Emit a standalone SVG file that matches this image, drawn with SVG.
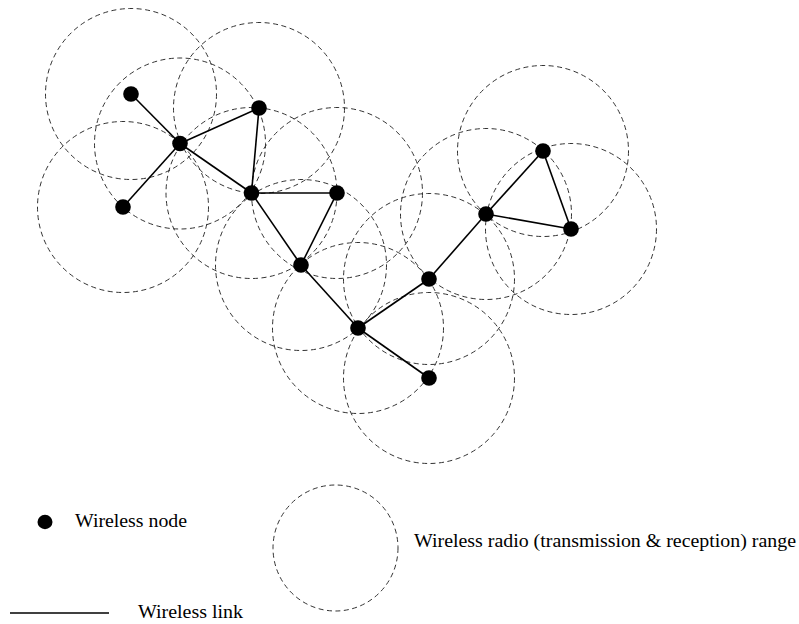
<svg xmlns="http://www.w3.org/2000/svg" width="799" height="624" viewBox="0 0 799 624">
<style>
.range{fill:none;stroke:#333;stroke-width:1;stroke-dasharray:5,3.5}
.link{stroke:#000;stroke-width:1.6}
.node{fill:#000}
.lbl{font-family:'Liberation Serif','Times New Roman','DejaVu Serif',serif;font-size:19px;fill:#000}
</style>
<rect width="799" height="624" fill="#fff"/>
<g id="ranges">
<circle class="range" cx="131" cy="94" r="85.5"/>
<circle class="range" cx="180" cy="143.5" r="85.5"/>
<circle class="range" cx="259" cy="108" r="85.5"/>
<circle class="range" cx="123" cy="207" r="85.5"/>
<circle class="range" cx="251.5" cy="193" r="85.5"/>
<circle class="range" cx="337" cy="193" r="85.5"/>
<circle class="range" cx="301" cy="265" r="85.5"/>
<circle class="range" cx="358" cy="328" r="85.5"/>
<circle class="range" cx="429" cy="279" r="85.5"/>
<circle class="range" cx="486" cy="214" r="85.5"/>
<circle class="range" cx="543" cy="151" r="85.5"/>
<circle class="range" cx="571" cy="229" r="85.5"/>
<circle class="range" cx="429" cy="378" r="85.5"/>
</g>
<g id="links">
<line class="link" x1="131" y1="94" x2="180" y2="143.5"/>
<line class="link" x1="180" y1="143.5" x2="259" y2="108"/>
<line class="link" x1="180" y1="143.5" x2="123" y2="207"/>
<line class="link" x1="180" y1="143.5" x2="251.5" y2="193"/>
<line class="link" x1="259" y1="108" x2="251.5" y2="193"/>
<line class="link" x1="251.5" y1="193" x2="337" y2="193"/>
<line class="link" x1="251.5" y1="193" x2="301" y2="265"/>
<line class="link" x1="337" y1="193" x2="301" y2="265"/>
<line class="link" x1="301" y1="265" x2="358" y2="328"/>
<line class="link" x1="358" y1="328" x2="429" y2="279"/>
<line class="link" x1="358" y1="328" x2="429" y2="378"/>
<line class="link" x1="429" y1="279" x2="486" y2="214"/>
<line class="link" x1="486" y1="214" x2="543" y2="151"/>
<line class="link" x1="486" y1="214" x2="571" y2="229"/>
<line class="link" x1="543" y1="151" x2="571" y2="229"/>
</g>
<g id="n1"><circle class="node" cx="131" cy="94" r="7.8"/></g>
<g id="n2"><circle class="node" cx="180" cy="143.5" r="7.8"/></g>
<g id="n3"><circle class="node" cx="259" cy="108" r="7.8"/></g>
<g id="n4"><circle class="node" cx="123" cy="207" r="7.8"/></g>
<g id="n5"><circle class="node" cx="251.5" cy="193" r="7.8"/></g>
<g id="n6"><circle class="node" cx="337" cy="193" r="7.8"/></g>
<g id="n7"><circle class="node" cx="301" cy="265" r="7.8"/></g>
<g id="n8"><circle class="node" cx="358" cy="328" r="7.8"/></g>
<g id="n9"><circle class="node" cx="429" cy="279" r="7.8"/></g>
<g id="n10"><circle class="node" cx="486" cy="214" r="7.8"/></g>
<g id="n11"><circle class="node" cx="543" cy="151" r="7.8"/></g>
<g id="n12"><circle class="node" cx="571" cy="229" r="7.8"/></g>
<g id="n13"><circle class="node" cx="429" cy="378" r="7.8"/></g>
<g id="legend">
<g id="legend-node">
<ellipse class="node" cx="45" cy="522" rx="7.5" ry="7.2"/>
<text class="lbl" font-family="Liberation Serif, serif" x="75" y="527" textLength="112" lengthAdjust="spacingAndGlyphs">Wireless node</text>
</g>
<g id="legend-range">
<ellipse class="range" cx="335.5" cy="548" rx="62.5" ry="63"/>
<text class="lbl" font-family="Liberation Serif, serif" x="414" y="547" textLength="382" lengthAdjust="spacingAndGlyphs">Wireless radio (transmission &amp; reception) range</text>
</g>
<g id="legend-link">
<line class="link" x1="10" y1="613" x2="109" y2="613"/>
<text class="lbl" font-family="Liberation Serif, serif" x="138" y="618" textLength="105" lengthAdjust="spacingAndGlyphs">Wireless link</text>
</g>
</g>
</svg>
